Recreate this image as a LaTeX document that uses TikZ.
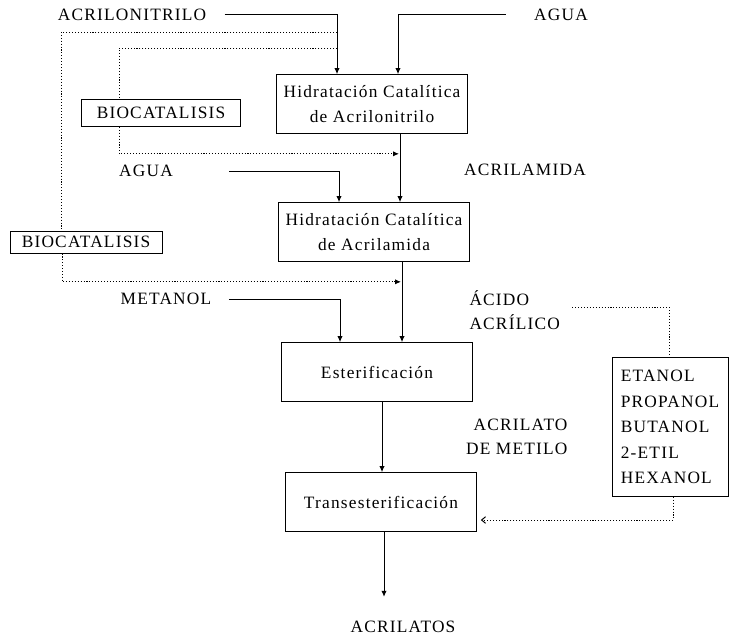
\documentclass[tikz,border=0pt]{standalone}
\usepackage{fontspec}
\setmainfont{Liberation Serif}[LetterSpace=7]
\usetikzlibrary{calc, arrows.meta}
\tikzstyle{process} = [draw, rectangle, minimum width=143pt,
minimum height=44pt, align=center, inner sep=0pt]
\tikzstyle{agent} = [draw, rectangle, minimum width=119pt, minimum height=20pt, inner sep=0pt]
\tikzstyle{alcohols} = [draw, rectangle, minimum width=87pt, minimum height=104pt,
align=left, inner sep=0pt, font=\fontsize{13}{19.2}\selectfont]
\tikzstyle{stream} = [inner sep=0pt, align=center]
\tikzstyle{dotline} = [dash pattern=on 0.8pt off 1.4pt]

\begin{document}
\begin{tikzpicture}[x=0.75pt,y=-0.75pt,>={Latex[length=4.5pt,width=4pt]},line width=0.75pt,
  font=\fontsize{13}{18.5}\selectfont]
  \useasboundingbox (0,0) rectangle (730,638);
  % process boxes
  \node [process] (hacn) at (372,104) {Hidratación Catalítica\\de Acrilonitrilo};
  \node [process] (hacm) at (374,232) {Hidratación Catalítica\\de Acrilamida};
  \node [process] (ester) at (377,372) {Esterificación};
  \node [process] (trans) at (381,502) {Transesterificación};
  \node [agent] (bio1) at (161,113) {BIOCATALISIS};
  \node [agent, minimum width=114pt, minimum height=16.5pt] (bio2) at (86,242) {BIOCATALISIS};
  \node [alcohols] (alc) at (670,427) {ETANOL\\PROPANOL\\BUTANOL\\2-ETIL\\HEXANOL};
  % streams
  \node [stream] (acn) at (132,15) {ACRILONITRILO};
  \node [stream] (agua1) at (561,15) {AGUA};
  \node [stream] (agua2) at (146,171) {AGUA};
  \node [stream] (acm) at (525,170) {ACRILAMIDA};
  \node [stream] (met) at (166,299) {METANOL};
  \node [stream, align=left, anchor=west] (acido) at (469,310) {ÁCIDO\\ACRÍLICO};
  \node [stream, align=right, anchor=east] (acmet) at (568,437) {ACRILATO\\DE METILO};
  \coordinate (out) at ($(trans.south)+(3,65)$);
  \node [stream] (acrs) at (403,627) {ACRILATOS};
  % feeds
  \coordinate (p1) at ($(hacn.north)+(-35,0)$);
  \draw[->] ($(acn.east)+(18,0)$) -| (p1);
  \draw[->] ($(agua1.west)+(-28,0)$) -| ($(hacn.north)+(26,0)$);
  \draw[->] ($(agua2.east)+(56,0)$) -| ($(hacm.north)+(-35,0)$);
  \draw[->] ($(met.east)+(17,0)$) -| ($(ester.north)+(-37,0)$);
  % main line
  \draw[->] ($(hacn.south)+(28,0)$) -- ($(hacm.north)+(26,0)$);
  \draw[->] ($(hacm.south)+(28,0)$) -- ($(ester.north)+(25,0)$);
  \draw[->] ($(ester.south)+(5,0)$) -- ($(trans.north)+(1,0)$);
  \draw[->] ($(trans.south)+(3,0)$) -- (out);
  % biocatalysis routes
  \draw[dotline] ($(p1)+(0,-26)$) -| ($(bio1.north)+(-42,0)$);
  \draw[dotline,->] ($(bio1.south)+(-42,0)$) |- ($(hacn.south)+(27,20)$);
  \draw[dotline] ($(p1)+(0,-42)$) -| ($(bio2.north)+(-25,0)$);
  \draw[dotline,->] ($(bio2.south)+(-24,0)$) |- ($(hacm.south)+(27,20)$);
  % transesterification
  \draw[dotline] ($(acido.east)+(12,-3)$) -| ($(alc.north)+(-1,0)$);
  \draw[dotline,-{Straight Barb[length=3pt,width=5pt]}] ($(alc.south)+(3,0)$) |- ($(trans.east)+(4,18)$);
\end{tikzpicture}
\end{document}
